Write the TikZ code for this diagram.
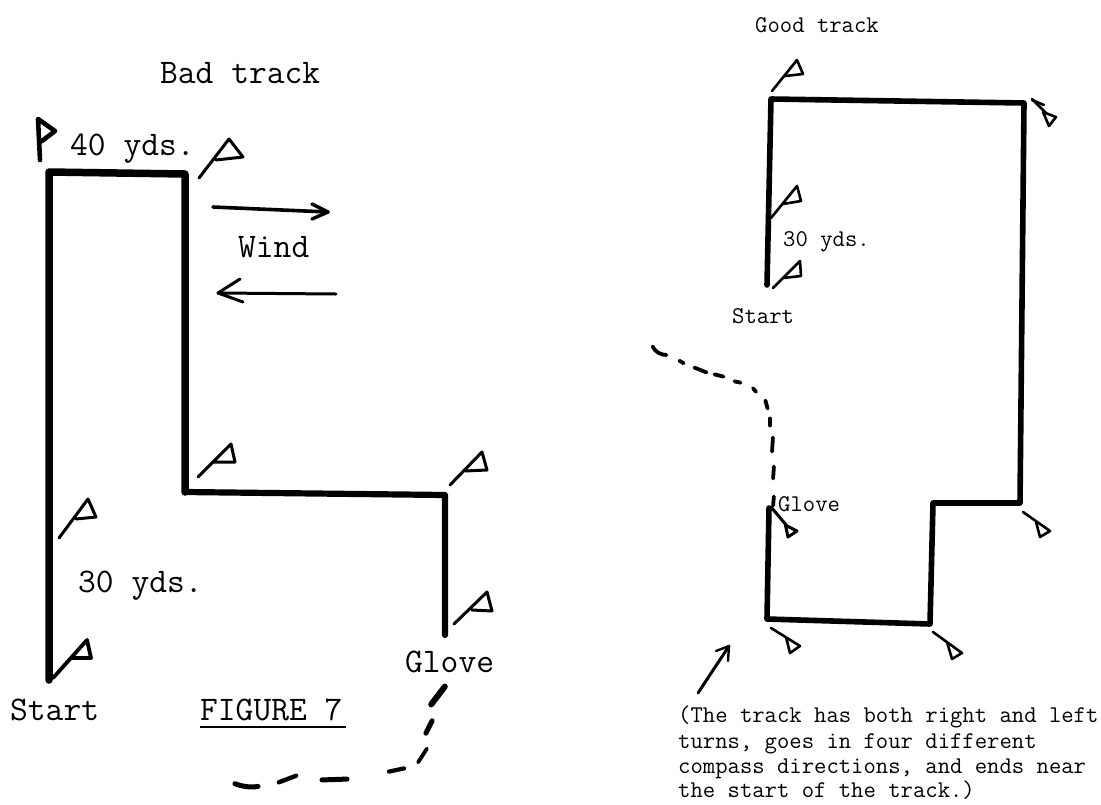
\documentclass[tikz,border=0pt]{standalone}
\tikzset{
  x=1pt,y=-1pt,
  bigtext/.style={anchor=base west,inner sep=0pt,font=\ttfamily\fontsize{34.5}{34.5}\selectfont},
  smalltext/.style={anchor=base west,inner sep=0pt,font=\ttfamily\fontsize{24}{24}\selectfont},
  trackline/.style={line width=7.5pt,line join=round,line cap=round},
  trackthin/.style={line width=5.6pt,line join=round,line cap=round},
  flagline/.style={line width=3pt,line join=round,line cap=round},
  flagthin/.style={line width=2.6pt,line join=round,line cap=round},
  scentdash/.style={line width=5pt,line cap=round,shorten >=2pt,shorten <=2pt},
  scentthin/.style={line width=3.8pt,line cap=round,shorten >=1.5pt,shorten <=1.5pt},
  windarrow/.style={line width=3pt,line cap=round,line join=round},
}
% staff base, staff top, triangle tip, return point on staff
\newcommand{\flagmark}[5][flagline]{\draw[#1] (#2) -- (#3) -- (#4) -- (#5);}
\begin{document}
\begin{tikzpicture}
\useasboundingbox (0,0) rectangle (1101,804);
% ---------- Bad track ----------
\coordinate (bs) at (49,680);
\coordinate (b1) at (49,172);
\coordinate (b2) at (185,174);
\coordinate (b3) at (185,492);
\coordinate (b4) at (445,495);
\coordinate (be) at (445,635);
\draw[trackline] (bs) -- (b1) -- (b2) -- (b3);
\draw[trackthin,line width=6.2pt] (b3) -- (b4) -- (be);
\flagmark[flagline,line width=4.6pt]{40,160}{38,119}{55,131}{42,141}
\flagmark{199,178}{229,139}{243,157}{216,160}
\flagmark{198,477}{231,444}{235,462}{213,462}
\flagmark{450,485}{482,452}{487,470}{465,471}
\flagmark{454,624}{487,592}{492,611}{472,610}
\flagmark{59,538}{88,499}{96,517}{76,519}
\flagmark[flagline,line width=3.8pt]{53,678}{87,640}{91,658}{72,658}
% wind arrows
\coordinate (w1a) at (213,207); \coordinate (w1b) at (328,212);
\draw[windarrow,line width=3.6pt] (w1a) -- (w1b);
\draw[windarrow,line width=3.4pt] (312,204) -- (w1b) -- (312,219);
\coordinate (w2a) at (336,294); \coordinate (w2b) at (218,293);
\draw[windarrow] (w2a) -- (w2b);
\draw[windarrow] (240,279) -- (w2b) -- (243,302);
% dashes
\draw[scentdash,line width=6pt] (446,685) -- (430,706);
\draw[scentdash] (433,719) -- (425,735);
\draw[scentdash,line width=3.8pt] (428,747) -- (417,764);
\draw[scentdash,line width=4.2pt] (406,768) -- (387,772);
\draw[scentdash] (349,779) -- (320,780);
\draw[scentdash,line width=4.4pt] (298,775) -- (277,783);
\draw[scentdash] (260,786) .. controls (250,788) and (241,786) .. (233,783);
% text
\node[bigtext] (badtitle) at (160,83) {Bad track};
\node[bigtext] (yds40) at (70,155) {40 yds.};
\node[bigtext] (wind) at (238,257) {Wind};
\node[bigtext] (yds30) at (78,592) {30 yds.};
\node[bigtext] (startL) at (10,720) {Start};
\node[bigtext] (fig) at (200,720) {FIGURE 7};
\draw[line width=2.4pt] (200,727) -- (346,727);
\node[bigtext] (gloveL) at (405,672) {Glove};
% ---------- Good track ----------
\coordinate (gs) at (767,285);
\coordinate (g1) at (771,99);
\coordinate (g2) at (1024,103);
\coordinate (g3) at (1020,503);
\coordinate (g4) at (933,503);
\coordinate (g5) at (930,624);
\coordinate (g6) at (767,619);
\coordinate (ge) at (769,508);
\draw[trackthin] (gs) -- (g1) -- (g2) -- (g3) -- (g4) -- (g5) -- (g6) -- (ge);
\flagmark[flagthin]{772,91}{797,60}{803,74}{785,76}
\flagmark[flagthin]{771,218}{797,186}{801,201}{783,204}
\flagmark[flagthin]{773,288}{800,261}{801,276}{783,278}
\draw[flagthin] (1032,99) -- (1046,113);
\draw[flagthin] (1032,100) -- (1044,105);
\draw[flagthin] (1043,112) -- (1056,117) -- (1049,126) -- cycle;
\draw[flagline] (771,507) -- (787,526) -- (797,531) -- (788,537) -- (785,523);
\flagmark[flagthin]{1023,512}{1050,531}{1040,537}{1036,522}
\flagmark[flagthin]{771,628}{800,646}{790,653}{786,637}
\flagmark[flagthin]{933,632}{962,653}{952,659}{947,642}
% pointer arrow
\coordinate (pa) at (698,693); \coordinate (pb) at (729,646);
\draw[windarrow] (pa) -- (pb);
\draw[windarrow,line width=2.4pt] (716,651) -- (pb) -- (728,661);
% dashes
\draw[scentthin] (652,345) .. controls (655,352) and (661,355) .. (668,355);
\draw[scentthin] (678,360) -- (685,364);
\draw[scentthin] (693,367) -- (708,373);
\draw[scentthin] (713,374) -- (725,377);
\draw[scentthin] (733,381) -- (742,383);
\draw[scentthin] (752,387) -- (757,393);
\draw[scentthin] (765,399) -- (768,410);
\draw[scentthin] (770,417) -- (770,427);
\draw[scentthin] (773,436) -- (772,453);
\draw[scentthin] (774,465) -- (773,480);
\draw[scentthin] (774,495) -- (773,507);
% text
\node[smalltext] (goodtitle) at (755,32) {Good track};
\node[smalltext] (ydsR) at (783,246) {30 yds.};
\node[smalltext] (startR) at (732,323) {Start};
\node[smalltext] (gloveR) at (778,511) {Glove};
\node[smalltext] (n1) at (678,722) {(The track has both right and left};
\node[smalltext] (n2) at (678,748) {turns, goes in four different};
\node[smalltext] (n3) at (678,773) {compass directions, and ends near};
\node[smalltext] (n4) at (678,797) {the start of the track.)};
\end{tikzpicture}
\end{document}
